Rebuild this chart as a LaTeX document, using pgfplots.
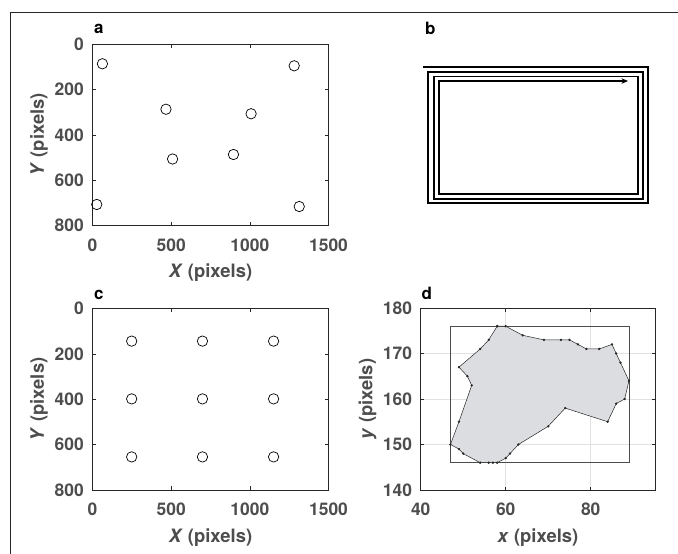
\documentclass[border=0pt]{standalone}
\usepackage{fontspec}
\setmainfont{TeX Gyre Heros}
\usepackage{pgfplots}
\pgfplotsset{compat=1.18}
\usetikzlibrary{arrows.meta}

\definecolor{mline}{RGB}{38,38,38}
\definecolor{mtext}{RGB}{77,77,77}
\definecolor{mfill}{RGB}{220,221,224}
\definecolor{mgrid}{RGB}{225,225,225}

\pgfplotsset{
  mat/.style={
    scale only axis, anchor=north west, clip=false,
    axis line style={draw=mline, line width=0.6bp},
    tick style={draw=mline, line width=0.6bp},
    major tick length=3.5bp, tick align=inside,
    /pgf/number format/assume math mode=true,
    /pgf/number format/1000 sep={},
    scaled ticks=false,
    tick label style={font=\fontsize{17.5}{18}\selectfont\bfseries, text=mtext},
    xticklabel style={inner sep=0pt, anchor=north, yshift=-13bp},
    yticklabel style={inner sep=0pt, anchor=east, xshift=-8.5bp},
    label style={font=\fontsize{18.5}{20}\selectfont\bfseries, text=mtext},
    xlabel style={at={(axis description cs:0.5,-0.287)}, anchor=base},
    ylabel style={at={(axis description cs:-0.206,0.5)}, anchor=base, rotate=0},
  },
  circ/.style={only marks, mark=o, mark size=5.2bp, mark options={draw=black, line width=0.7bp}},
}

\begin{document}
\begin{tikzpicture}
\useasboundingbox (0,0) rectangle (678bp,-554bp);
\draw[line width=1bp, black!85] (10bp,-554bp) -- (10bp,-12bp) -- (678bp,-12bp);

\tikzset{plab/.style={anchor=base west, inner sep=0pt, font=\fontsize{17}{17}\selectfont\bfseries}}
\node[plab] at (94bp,-33.5bp) {a};
\node[plab] at (425bp,-34bp) {b};
\node[plab] at (94bp,-299bp) {c};
\node[plab] at (421.5bp,-299bp) {d};

% panel a
\begin{axis}[mat, at={(92.5bp,-44.3bp)}, width=236bp, height=181bp,
  xmin=0, xmax=1500, ymin=0, ymax=800, y dir=reverse,
  xtick={0,500,1000,1500}, ytick={0,200,400,600,800},
  xlabel={\textit{X} (pixels)}, ylabel={\textit{Y} (pixels)}]
\addplot[circ] coordinates {
  (63,86)(1282,95)(467,287)(1008,307)(509,507)(896,487)(27,708)(1314,717)};
\end{axis}

% panel b
\begin{axis}[scale only axis, anchor=north west, at={(423bp,-67bp)},
  width=225bp, height=136bp, hide axis, clip=false,
  xmin=423, xmax=648, ymin=67, ymax=203, y dir=reverse]
\addplot[black, line width=1.5bp, -{Stealth[length=6.5bp,width=5.5bp]}] coordinates {
  (423,67)(648,67)(648,203)(428,203)(428,72)(643,72)(643,199)(434,199)
  (434,76.5)(638,76.5)(638,194)(439,194)(439,81)(628,81)};
\end{axis}

% panel c
\begin{axis}[mat, at={(92.5bp,-308.7bp)}, width=236bp, height=181.3bp,
  xmin=0, xmax=1500, ymin=0, ymax=800, y dir=reverse,
  xtick={0,500,1000,1500}, ytick={0,200,400,600,800},
  xlabel={\textit{X} (pixels)}, ylabel={\textit{Y} (pixels)}]
\addplot[circ] coordinates {
  (249,143)(699,143)(1151,143)
  (249,398)(699,398)(1151,398)
  (249,654)(699,654)(1151,654)};
\end{axis}

% panel d
\begin{axis}[mat, at={(420.7bp,-308bp)}, width=234.6bp, height=182bp,
  xmin=40, xmax=95.2, ymin=140, ymax=180,
  xtick={40,60,80}, ytick={140,150,160,170,180},
  grid=major, grid style={mgrid, line width=0.5bp},
  xlabel={\textit{x} (pixels)}, ylabel={\textit{y} (pixels)}]
\addplot[fill=mfill, draw=black!85, line width=0.5bp, mark=*, mark size=0.9bp,
  mark options={fill=black!85, draw=black!85}] coordinates {
  (58,176)(60,176)(64,174)(69,173)(73,173)(75,173)(77,172)(79,171)(82,171)
  (85,172)(86,170)(87,168)(89,164)(88,160)(86,159)(84,155)(74,158)(70,154)
  (63,150)(61,148)(60,147)(58,146)(57,146)(56,146)(54,146)(50,148)(49,149)
  (47,150)(49,155)(52,163)(51,165)(49,167)(54,171)(56,173)(58,176)} -- cycle;
\addplot[draw=black!70, line width=0.6bp] coordinates {
  (47,146)(89,146)(89,176)(47,176)(47,146)};
\end{axis}
\end{tikzpicture}
\end{document}
